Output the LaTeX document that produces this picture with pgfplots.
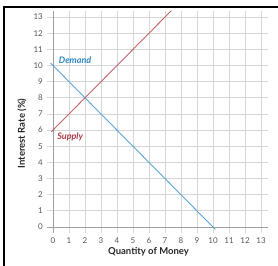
\documentclass[border=0pt]{standalone}
\usepackage{pgfplots}
\pgfplotsset{compat=1.18}
\usepackage{fontspec}
\setmainfont{Lato}
\definecolor{demandline}{HTML}{5AA5D8}
\definecolor{demandtext}{HTML}{2E86C1}
\definecolor{supplyline}{HTML}{C0646C}
\definecolor{supplytext}{HTML}{B03A48}
\definecolor{gridc}{HTML}{D6D6D6}
\definecolor{tickc}{HTML}{555555}
\begin{document}
\begin{tikzpicture}
\useasboundingbox (-47.4pt,-32.3pt) rectangle (230.6pt,232.7pt);
\begin{axis}[
  at={(0pt,0pt)}, anchor=south west,
  scale only axis, width=220.8pt, height=222.1pt,
  xmin=-0.35, xmax=13.45, ymin=-0.35, ymax=13.4,
  xtick={0,...,13}, ytick={0,...,13},
  major tick length=0pt,
  axis line style={draw=none},
  grid=major,
  major grid style={gridc, line width=0.8pt},
  tick label style={font=\fontsize{8}{9}\selectfont, text=tickc},
  /pgf/number format/assume math mode=true,
  xticklabel style={yshift=-1.5pt},
  yticklabel style={xshift=-1pt},
  xlabel={Quantity of Money},
  ylabel={Interest Rate (\%)},
  label style={font=\bfseries\fontsize{9.5}{11}\selectfont, text=black!85},
  xlabel style={at={(axis description cs:0.458,-0.086)}, anchor=center},
  ylabel style={at={(axis description cs:-0.115,0.447)}, anchor=center},
  clip=false,
]
\draw[gray!75, line width=0.8pt] (axis cs:0,-0.35) -- (axis cs:0,13.4);
\draw[gray!75, line width=0.8pt] (axis cs:-0.35,0) -- (axis cs:13.45,0);
\addplot[demandline, line width=0.9pt] coordinates {(-0.15,10.15) (10.15,-0.15)};
\addplot[supplyline, line width=0.9pt] coordinates {(-0.1,5.9) (7.4,13.4)};
\node[anchor=west, text=demandtext, font=\bfseries\itshape\fontsize{9}{10}\selectfont] at (axis cs:0.15,10.3) {Demand};
\node[anchor=west, text=supplytext, font=\bfseries\itshape\fontsize{9}{10}\selectfont] at (axis cs:0.05,5.55) {Supply};
\end{axis}
\draw[line width=2pt] (-43.4pt,-40pt) -- (-43.4pt,225.7pt) -- (240pt,225.7pt);
\end{tikzpicture}
\end{document}
